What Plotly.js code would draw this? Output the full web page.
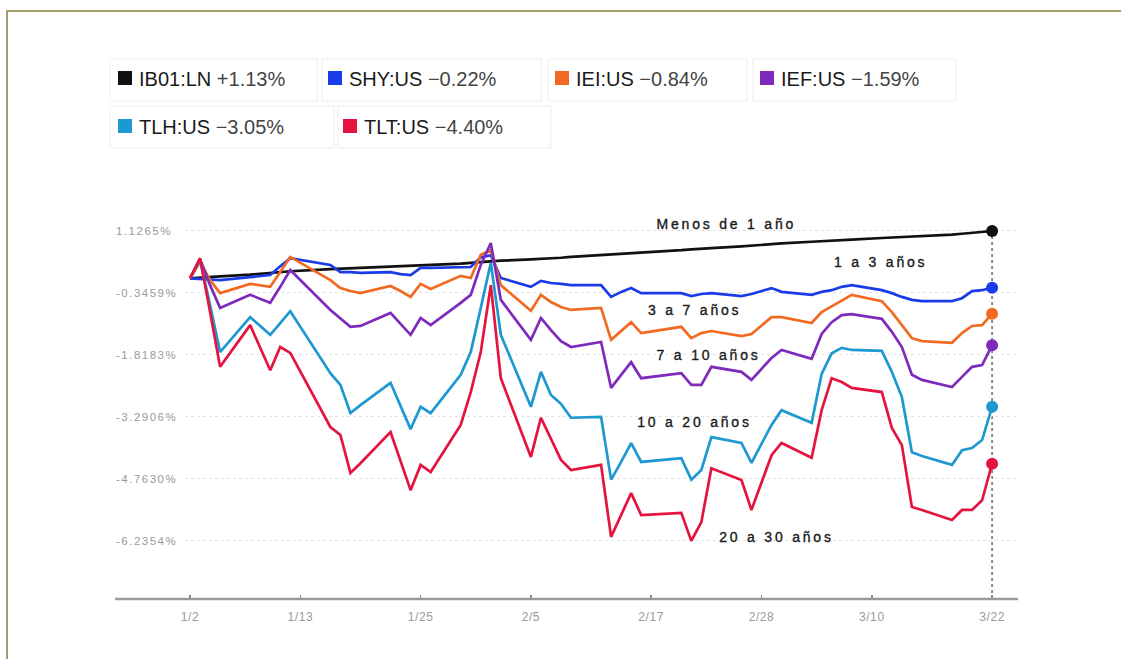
<!DOCTYPE html>
<html>
<head>
<meta charset="utf-8">
<script src="https://cdn.plot.ly/plotly-3.0.1.min.js"></script>
<style>
html,body{margin:0;padding:0;background:#fff;}
#chart{position:absolute;left:0;top:0;width:1121px;height:659px;}
#frame{position:absolute;left:6px;top:10px;width:1115px;height:649px;border-top:2px solid #a39d6e;border-left:2px solid #a39d6e;pointer-events:none;box-sizing:border-box;}
</style>
</head>
<body>
<div id="chart"></div>
<div id="frame"></div>
<script>
// ---- data ----
const dates = [
 '2024-01-02','2024-01-03','2024-01-04','2024-01-05','2024-01-08','2024-01-09','2024-01-10','2024-01-11','2024-01-12',
 '2024-01-16','2024-01-17','2024-01-18','2024-01-19','2024-01-22','2024-01-23','2024-01-24','2024-01-25','2024-01-26',
 '2024-01-29','2024-01-30','2024-01-31','2024-02-01','2024-02-02','2024-02-05','2024-02-06','2024-02-07','2024-02-08','2024-02-09',
 '2024-02-12','2024-02-13','2024-02-14','2024-02-15','2024-02-16','2024-02-20','2024-02-21','2024-02-22','2024-02-23',
 '2024-02-26','2024-02-27','2024-02-28','2024-02-29','2024-03-01','2024-03-04','2024-03-05','2024-03-06','2024-03-07','2024-03-08',
 '2024-03-11','2024-03-12','2024-03-13','2024-03-14','2024-03-15','2024-03-18','2024-03-19','2024-03-20','2024-03-21','2024-03-22'
];
const ib01 = [0,0.02,0.04,0.05,0.09,0.11,0.13,0.15,0.17,
 0.22,0.23,0.24,0.25,0.27,0.28,0.29,0.30,0.31,
 0.35,0.37,0.39,0.41,0.42,0.45,0.46,0.48,0.49,0.51,
 0.55,0.56,0.58,0.59,0.61,0.67,0.69,0.70,0.72,
 0.76,0.78,0.79,0.81,0.83,0.87,0.88,0.90,0.91,0.92,
 0.96,0.97,0.98,0.99,1.01,1.04,1.06,1.08,1.10,1.1265];
const shy = [0,-0.01,-0.02,-0.04,0.03,0.06,0.08,0.29,0.48,
 0.32,0.15,0.15,0.13,0.15,0.10,0.08,0.25,0.25,
 0.27,0.27,0.50,0.55,0.01,-0.20,-0.06,-0.11,-0.13,-0.16,
 -0.16,-0.44,-0.32,-0.23,-0.35,-0.35,-0.42,-0.37,-0.35,
 -0.42,-0.37,-0.30,-0.23,-0.32,-0.39,-0.32,-0.28,-0.20,-0.16,
 -0.28,-0.35,-0.44,-0.51,-0.54,-0.54,-0.47,-0.30,-0.28,-0.22];
const iei = [0,0.39,-0.04,-0.35,-0.13,-0.16,-0.20,0.15,0.51,
 -0.04,-0.23,-0.30,-0.35,-0.18,-0.30,-0.44,-0.13,-0.25,
 0.06,0.01,0.56,0.67,-0.16,-0.77,-0.39,-0.56,-0.68,-0.75,
 -0.70,-1.46,-1.25,-1.04,-1.30,-1.15,-1.42,-1.30,-1.25,
 -1.37,-1.32,-1.13,-0.92,-0.92,-1.06,-0.80,-0.66,-0.51,-0.39,
 -0.54,-0.80,-1.11,-1.42,-1.49,-1.53,-1.30,-1.13,-1.11,-0.84];
const ief = [0,0.46,-0.16,-0.70,-0.39,-0.49,-0.58,-0.20,0.20,
 -0.75,-0.96,-1.15,-1.13,-0.82,-1.08,-1.34,-0.94,-1.11,
 -0.58,-0.39,0.32,0.84,-0.51,-1.46,-0.94,-1.23,-1.49,-1.63,
 -1.51,-2.60,-2.29,-1.99,-2.37,-2.25,-2.53,-2.53,-2.10,
 -2.22,-2.41,-2.15,-1.89,-1.70,-1.91,-1.32,-1.04,-0.87,-0.85,
 -0.96,-1.27,-1.63,-2.29,-2.41,-2.58,-2.34,-2.10,-2.06,-1.59];
const tlh = [0,0.44,-0.63,-1.75,-0.92,-1.13,-1.34,-1.06,-0.78,
 -2.25,-2.53,-3.20,-3.01,-2.48,-3.03,-3.58,-3.05,-3.20,
 -2.29,-1.75,-0.70,0.37,-1.34,-3.05,-2.22,-2.77,-2.98,-3.31,
 -3.29,-4.78,-4.36,-3.91,-4.36,-4.27,-4.78,-4.55,-3.77,
 -3.91,-4.38,-3.93,-3.48,-3.13,-3.43,-2.27,-1.78,-1.65,-1.70,
 -1.72,-2.22,-2.82,-4.13,-4.22,-4.43,-4.08,-4.03,-3.84,-3.05];
const tlt = [0,0.48,-0.80,-2.10,-1.11,-1.65,-2.18,-1.63,-1.77,
 -3.53,-3.72,-4.62,-4.39,-3.65,-4.34,-5.03,-4.43,-4.60,
 -3.48,-2.70,-1.75,-0.16,-2.37,-4.24,-3.31,-3.81,-4.31,-4.55,
 -4.43,-6.14,-5.62,-5.10,-5.62,-5.57,-6.2354,-5.79,-4.51,
 -4.79,-5.50,-4.84,-4.20,-3.91,-4.26,-3.13,-2.37,-2.46,-2.60,
 -2.70,-3.55,-3.96,-5.43,-5.50,-5.74,-5.50,-5.50,-5.27,-4.40];

const seriesNames = ['IB01:LN','SHY:US','IEI:US','IEF:US','TLH:US','TLT:US'];
const seriesChanges = ['+1.13%','\u22120.22%','\u22120.84%','\u22121.59%','\u22123.05%','\u22124.40%'];
const seriesLabels = ['Menos de 1 año','1 a 3 años','3 a 7 años','7 a 10 años','10 a 20 años','20 a 30 años'];
const xTickVals = ['2024-01-02','2024-01-13','2024-01-25','2024-02-05','2024-02-17','2024-02-28','2024-03-10','2024-03-22'];
const xTickText = ['1/2','1/13','1/25','2/5','2/17','2/28','3/10','3/22'];
const yTickVals = [1.1265,-0.3459,-1.8183,-3.2906,-4.7630,-6.2354];
const yTickText = ['1.1265%','-0.3459%','-1.8183%','-3.2906%','-4.7630%','-6.2354%'];

// ---- style ----
const allSeries = [ib01, shy, iei, ief, tlh, tlt];
const colors = ['#111111','#1a3ce8','#f26a21','#7e2bbd','#1d98d0','#e5133f'];

const W = 1121, H = 659;
const L = 185, R = 1018, T = 215, B = 599;
const px2x = p => (p - L) / (R - L);
const py2y = p => (B - p) / (B - T);
const FONT = 'Liberation Sans, Arial, sans-serif';

const traces = [];
allSeries.forEach((s, i) => {
  traces.push({x: dates, y: s, type: 'scatter', mode: 'lines', name: seriesNames[i],
    line: {color: colors[i], width: 2.7}, hoverinfo: 'skip'});
});
allSeries.forEach((s, i) => {
  traces.push({x: [dates[dates.length-1]], y: [s[s.length-1]], type: 'scatter', mode: 'markers',
    marker: {color: colors[i], size: 12}, hoverinfo: 'skip', showlegend: false});
});

const shapes = [];
const annotations = [];
const spacing = []; // [annotation index, letter spacing, anchor, darken]

// legend boxes
const boxes = [[110,59,317,101],[322,59,541,101],[548,59,747,101],[753,59,956,101],[110,106,334,148],[338,106,551,148]];
const squares = [[118,71],[328,71],[555,71],[760,71],[118,119],[343,119]];
boxes.forEach(b => shapes.push({type:'rect', xref:'paper', yref:'paper', layer:'below',
  x0:px2x(b[0]), x1:px2x(b[2]), y0:py2y(b[3]), y1:py2y(b[1]),
  line:{color:'#ededed', width:1}, fillcolor:'#ffffff'}));
squares.forEach((s, i) => {
  shapes.push({type:'rect', xref:'paper', yref:'paper',
    x0:px2x(s[0]), x1:px2x(s[0]+14), y0:py2y(s[1]+14), y1:py2y(s[1]),
    line:{width:0}, fillcolor:colors[i]});
  annotations.push({xref:'paper', yref:'paper', x:px2x(s[0]+19), y:py2y(s[1]+7.5),
    xanchor:'left', yanchor:'middle', showarrow:false,
    text: seriesNames[i] + ' <span style="color:#444">' + seriesChanges[i] + '</span>',
    font:{family:FONT, size:20, color:'#1a1a1a'}});
});

// series labels (centre positions)
const labelPos = [[726,224],[880,262],[694,310],[708,355],[694,422],[776,537]];
labelPos.forEach((p, i) => {
  spacing.push([annotations.length, '2.8px', 'center', true]);
  annotations.push({xref:'paper', yref:'paper', x:px2x(p[0]), y:py2y(p[1]),
    xanchor:'center', yanchor:'middle', showarrow:false, text: seriesLabels[i],
    font:{family:FONT, size:14, color:'#151515'}});
});

// y tick labels (left aligned, as in the reference)
yTickVals.forEach((v, i) => {
  spacing.push([annotations.length, '1.5px', 'left', false]);
  annotations.push({xref:'paper', yref:'y', x:px2x(114), y:v,
    xanchor:'left', yanchor:'middle', showarrow:false, text: yTickText[i],
    font:{family:FONT, size:11.5, color:'#9a9a9a'}});
});

// axis baseline
shapes.push({type:'line', xref:'paper', yref:'paper', x0:px2x(115), x1:1, y0:0, y1:0,
  line:{color:'#9a9a9a', width:2.5}});
// vertical dotted line at last date
const yRange = [(278.4-B)/42.1, (278.4-T)/42.1];
shapes.push({type:'line', xref:'x', yref:'y', x0:dates[dates.length-1], x1:dates[dates.length-1],
  y0:yRange[0], y1:ib01[ib01.length-1], layer:'below',
  line:{color:'#8a8a8a', width:2, dash:'dot'}});

const layout = {
  width: W, height: H,
  margin: {l: L, r: W - R, t: T, b: H - B, pad: 0},
  paper_bgcolor: '#ffffff', plot_bgcolor: '#ffffff',
  showlegend: false,
  font: {family: FONT, color: '#999'},
  xaxis: {
    type: 'date', range: ['2024-01-01 12:00', '2024-03-24 14:00'],
    tickvals: xTickVals, ticktext: xTickText, showgrid: false, zeroline: false,
    showline: false, ticks: 'inside', ticklen: 4, tickwidth: 1.5, tickcolor: '#8a8a8a',
    ticklabelstandoff: 9,
    tickfont: {size: 12, color: '#9a9a9a'}, fixedrange: true
  },
  yaxis: {
    range: yRange, tickvals: yTickVals, showticklabels: false,
    showgrid: true, gridcolor: '#e2e2e2', griddash: 'dot', gridwidth: 1,
    zeroline: false, showline: false, ticks: '', fixedrange: true
  },
  shapes: shapes,
  annotations: annotations
};

Plotly.newPlot('chart', traces, layout, {staticPlot: true, displayModeBar: false}).then(() => {
  const groups = {};
  document.querySelectorAll('.annotation').forEach(g => { groups[g.getAttribute('data-index')] = g; });
  spacing.forEach(([idx, ls, anchor, dark]) => {
    const g = groups[idx]; if (!g) return;
    const t = g.querySelector('text'); if (!t) return;
    const b0 = t.getBBox();
    t.style.letterSpacing = ls;
    if (dark) { t.style.stroke = '#222'; t.style.strokeWidth = '0.35px'; }
    const b1 = t.getBBox();
    const dx = anchor === 'left' ? (b0.x - b1.x) : ((b0.x + b0.width/2) - (b1.x + b1.width/2));
    t.setAttribute('transform', 'translate(' + dx.toFixed(2) + ',0)');
  });
  document.querySelectorAll('.xtick text').forEach(t => { t.style.letterSpacing = '0.6px'; });
});
</script>
</body>
</html>
